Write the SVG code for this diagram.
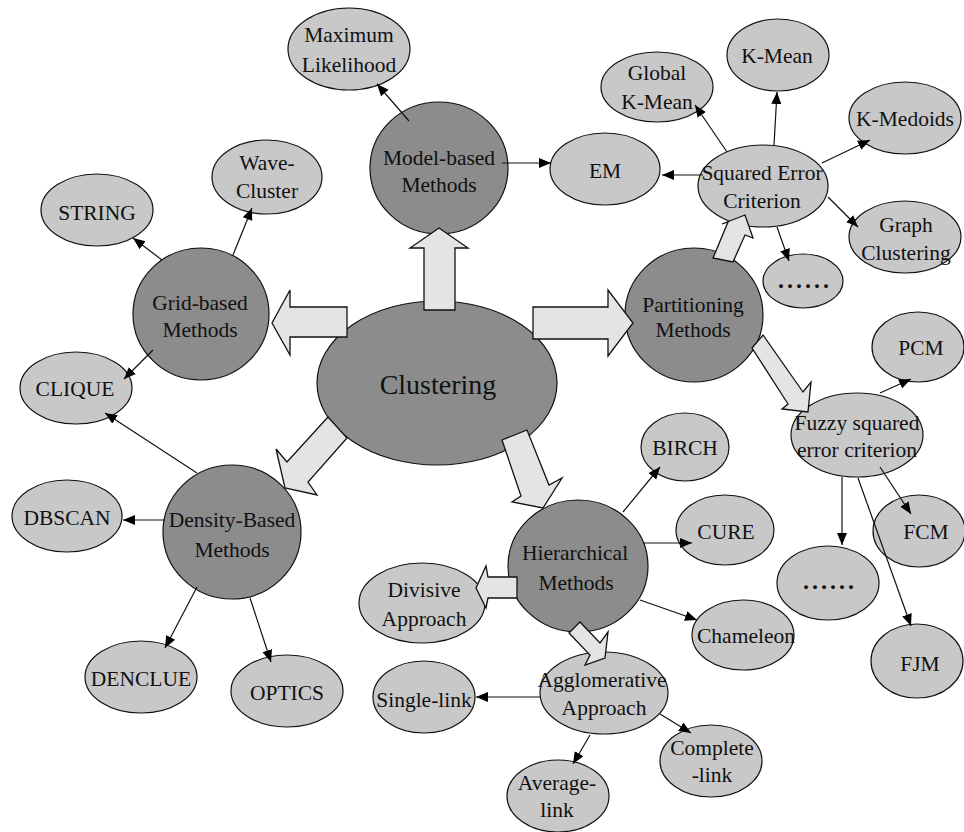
<svg xmlns="http://www.w3.org/2000/svg" width="964" height="832" viewBox="0 0 964 832">
<defs>
<marker id="ah" markerUnits="userSpaceOnUse" markerWidth="14" markerHeight="12" refX="12" refY="5" orient="auto">
<path d="M0,0 L12,5 L0,10 Z" fill="#000"/>
</marker>
<style>
.main{fill:#8c8c8c;stroke:#111;stroke-width:1.2}
.leaf{fill:#c8c8c8;stroke:#111;stroke-width:1.2}
.big{fill:#e4e4e4;stroke:#111;stroke-width:1.3;stroke-linejoin:miter}
.ln{stroke:#111;stroke-width:1.2;fill:none;marker-end:url(#ah)}
text{font-family:'Liberation Serif',serif;font-size:21.5px;fill:#111;text-anchor:middle}
.t28{font-size:28px}
.dots{font-weight:bold;font-size:24px;letter-spacing:3px}
</style>
</defs>
<rect x="0" y="0" width="964" height="832" fill="#fff"/>
<g font-family="Liberation Serif, serif">
<g id="clustering"><ellipse class="main" cx="437" cy="383" rx="120" ry="82"/><text class="t28" x="438" y="394">Clustering</text></g>
<g id="model-based"><ellipse class="main" cx="439" cy="168" rx="69" ry="66"/><text x="439" y="165">Model-based</text><text x="439" y="192">Methods</text></g>
<g id="grid-based"><ellipse class="main" cx="201" cy="314" rx="68" ry="66"/><text x="200" y="310">Grid-based</text><text x="200" y="337">Methods</text></g>
<g id="partitioning"><ellipse class="main" cx="694" cy="315" rx="69" ry="67"/><text x="693" y="312">Partitioning</text><text x="693" y="337">Methods</text></g>
<g id="density-based"><ellipse class="main" cx="232" cy="532" rx="69" ry="67"/><text x="232" y="527">Density-Based</text><text x="232" y="557">Methods</text></g>
<g id="hierarchical"><ellipse class="main" cx="578" cy="566" rx="70" ry="66"/><text x="575" y="560">Hierarchical</text><text x="576" y="590">Methods</text></g>

<g id="max-likelihood"><ellipse class="leaf" cx="349" cy="49" rx="61" ry="41"/><text x="349" y="42">Maximum</text><text x="349" y="72">Likelihood</text></g>
<g id="wave-cluster"><ellipse class="leaf" cx="267" cy="177" rx="55" ry="37"/><text x="267" y="170">Wave-</text><text x="267" y="198">Cluster</text></g>
<g id="string"><ellipse class="leaf" cx="97" cy="210" rx="56" ry="36"/><text x="97" y="220">STRING</text></g>
<g id="clique"><ellipse class="leaf" cx="76" cy="388" rx="56" ry="36"/><text x="75" y="396">CLIQUE</text></g>
<g id="dbscan"><ellipse class="leaf" cx="67" cy="516" rx="55" ry="36"/><text x="67" y="525">DBSCAN</text></g>
<g id="denclue"><ellipse class="leaf" cx="141" cy="677" rx="56" ry="36"/><text x="141" y="686">DENCLUE</text></g>
<g id="optics"><ellipse class="leaf" cx="287" cy="691" rx="56" ry="36"/><text x="287" y="700">OPTICS</text></g>
<g id="em"><ellipse class="leaf" cx="605" cy="169" rx="55" ry="36"/><text x="605" y="178">EM</text></g>
<g id="global-k-mean"><ellipse class="leaf" cx="657" cy="87" rx="56" ry="35"/><text x="657" y="80">Global</text><text x="657" y="109">K-Mean</text></g>
<g id="k-mean"><ellipse class="leaf" cx="778" cy="55" rx="51" ry="36"/><text x="777" y="63">K-Mean</text></g>
<g id="k-medoids"><ellipse class="leaf" cx="905" cy="118" rx="56" ry="36"/><text x="905" y="126">K-Medoids</text></g>
<g id="squared-error"><ellipse class="leaf" cx="763" cy="186" rx="65" ry="41"/><text x="762" y="180">Squared Error</text><text x="762" y="208">Criterion</text></g>
<g id="graph-clustering"><ellipse class="leaf" cx="905" cy="237" rx="56" ry="36"/><text x="906" y="232">Graph</text><text x="906" y="260">Clustering</text></g>
<g id="dots-1"><ellipse class="leaf" cx="803" cy="281" rx="40" ry="27"/><text class="dots" x="805" y="288">......</text></g>
<g id="pcm"><ellipse class="leaf" cx="918" cy="347" rx="46" ry="35"/><text x="921" y="355">PCM</text></g>
<g id="fuzzy"><ellipse class="leaf" cx="857" cy="435" rx="66" ry="42"/><text x="857" y="430">Fuzzy squared</text><text x="857" y="457">error criterion</text></g>
<g id="fcm"><ellipse class="leaf" cx="919" cy="531" rx="46" ry="36"/><text x="926" y="539">FCM</text></g>
<g id="dots-2"><ellipse class="leaf" cx="828" cy="583" rx="51" ry="37"/><text class="dots" x="830" y="589">......</text></g>
<g id="fjm"><ellipse class="leaf" cx="917" cy="661" rx="46" ry="37"/><text x="920" y="671">FJM</text></g>
<g id="birch"><ellipse class="leaf" cx="685" cy="447" rx="44" ry="34"/><text x="685" y="455">BIRCH</text></g>
<g id="cure"><ellipse class="leaf" cx="725" cy="530" rx="49" ry="35"/><text x="726" y="539">CURE</text></g>
<g id="chameleon"><ellipse class="leaf" cx="743" cy="635" rx="51" ry="35"/><text x="746" y="643">Chameleon</text></g>
<g id="divisive"><ellipse class="leaf" cx="422" cy="603" rx="63" ry="40"/><text x="424" y="597">Divisive</text><text x="424" y="626">Approach</text></g>
<g id="agglomerative"><ellipse class="leaf" cx="604" cy="693" rx="64" ry="41"/><text x="602" y="687">Agglomerative</text><text x="604" y="715">Approach</text></g>
<g id="single-link"><ellipse class="leaf" cx="424" cy="697" rx="51" ry="36"/><text x="424" y="707">Single-link</text></g>
<g id="complete-link"><ellipse class="leaf" cx="711" cy="761" rx="51" ry="36"/><text x="712" y="755">Complete</text><text x="712" y="782">-link</text></g>
<g id="average-link"><ellipse class="leaf" cx="558" cy="796" rx="51" ry="36"/><text x="557" y="790">Average-</text><text x="557" y="817">link</text></g>
</g>
<g id="connectors">
<polygon class="big" points="424,310 424,248 410,248 439,228 468,248 455,248 455,310"/>
<polygon class="big" points="347,307 290,307 290,290 272,323 290,355 290,337 347,337"/>
<polygon class="big" points="533,307 608,307 608,290 633,323 608,356 608,339 533,339"/>
<polygon class="big" points="328,417 347,438 308,482 317,495 285,488 276,449 287,462"/>
<polygon class="big" points="502,440 527,430 549,485 562,478 543,508 512,502 521,496"/>
<polygon class="big" points="752,348 763,335 803,392 811,382 808,412 782,409 788,404"/>
<polygon class="big" points="713,258 728,222 722,224 745,215 753,238 745,235 733,262"/>
<polygon class="big" points="517,577 488,577 486,566 476,588 486,608 488,598 517,598"/>
<polygon class="big" points="569,633 590,655 585,665 605,658 608,632 600,643 580,622"/>

<line class="ln" x1="409" y1="121" x2="377" y2="84"/>
<line class="ln" x1="502" y1="163" x2="551" y2="163"/>
<line class="ln" x1="162" y1="260" x2="133" y2="238"/>
<line class="ln" x1="233" y1="255" x2="252" y2="208"/>
<line class="ln" x1="153" y1="350" x2="124" y2="379"/>
<line class="ln" x1="197" y1="473" x2="105" y2="413"/>
<line class="ln" x1="165" y1="520" x2="123" y2="520"/>
<line class="ln" x1="197" y1="587" x2="165" y2="648"/>
<line class="ln" x1="250" y1="598" x2="271" y2="662"/>
<line class="ln" x1="703" y1="175" x2="662" y2="175"/>
<line class="ln" x1="727" y1="152" x2="695" y2="105"/>
<line class="ln" x1="774" y1="145" x2="777" y2="92"/>
<line class="ln" x1="822" y1="163" x2="870" y2="140"/>
<line class="ln" x1="828" y1="197" x2="858" y2="227"/>
<line class="ln" x1="777" y1="227" x2="789" y2="261"/>
<line class="ln" x1="880" y1="393" x2="911" y2="379"/>
<line class="ln" x1="842" y1="477" x2="842" y2="545"/>
<line class="ln" x1="880" y1="467" x2="911" y2="514"/>
<line class="ln" x1="858" y1="478" x2="911" y2="626"/>
<line class="ln" x1="623" y1="512" x2="660" y2="467"/>
<line class="ln" x1="643" y1="543" x2="692" y2="543"/>
<line class="ln" x1="640" y1="600" x2="697" y2="620"/>
<line class="ln" x1="540" y1="697" x2="476" y2="697"/>
<line class="ln" x1="660" y1="714" x2="691" y2="733"/>
<line class="ln" x1="590" y1="735" x2="573" y2="764"/>
</g>
</svg>
